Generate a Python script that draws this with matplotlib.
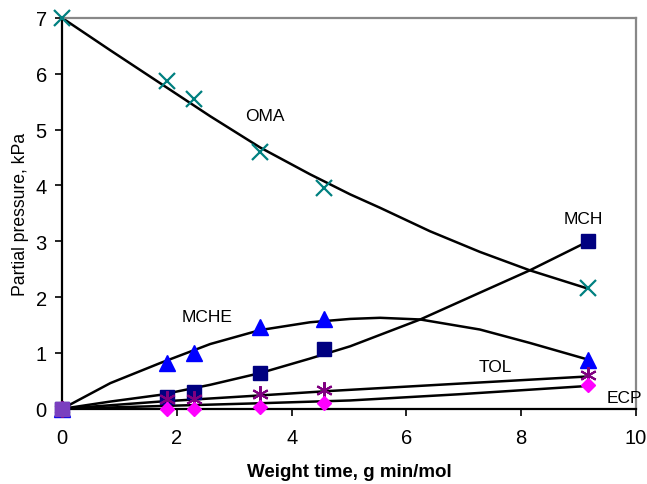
import matplotlib

matplotlib.use('Agg')
import matplotlib.pyplot as plt

plt.rcParams['font.family'] = ['Liberation Sans', 'DejaVu Sans']

# Экспериментальные точки
w_time = [0, 1.83, 2.3, 3.45, 4.57, 9.17]
oma_pts = [7.0, 5.87, 5.55, 4.6, 3.95, 2.17]
mche_pts = [0, 0.82, 1.0, 1.47, 1.6, 0.88]
mch_pts = [0, 0.22, 0.3, 0.65, 1.08, 3.0]
tol_pts = [0, 0.17, 0.18, 0.27, 0.34, 0.6]
ecp_pts = [0, -0.01, 0.0, 0.04, 0.1, 0.42]

# Модельные кривые
oma_cx = [0, 0.84, 1.71, 2.58, 3.45, 4.32, 5.02, 5.54, 6.41, 7.28, 8.15, 9.17]
oma_cy = [7.0, 6.42, 5.83, 5.24, 4.68, 4.2, 3.84, 3.6, 3.18, 2.81, 2.48, 2.15]
mche_cx = [0, 0.84, 1.71, 2.58, 3.45, 4.32, 5.02, 5.54, 6.24, 7.28, 8.15, 9.17]
mche_cy = [0, 0.46, 0.82, 1.16, 1.41, 1.55, 1.61, 1.63, 1.6, 1.42, 1.18, 0.88]
mch_cx = [0, 0.84, 1.71, 2.58, 3.45, 4.32, 5.02, 6.24, 7.28, 8.15, 9.17]
mch_cy = [0, 0.13, 0.25, 0.43, 0.64, 0.9, 1.12, 1.6, 2.08, 2.48, 3.0]
tol_cx = [0, 1.71, 3.45, 4.67, 6.9, 9.17]
tol_cy = [0, 0.13, 0.24, 0.32, 0.45, 0.58]
ecp_cx = [0, 1.71, 3.45, 5.02, 6.9, 9.17]
ecp_cy = [0, 0.05, 0.1, 0.15, 0.26, 0.41]

fig = plt.figure(figsize=(6.47, 4.85), dpi=100)
ax = fig.add_axes([0.096, 0.155, 0.887, 0.806])

for cx, cy in [(oma_cx, oma_cy), (mche_cx, mche_cy), (mch_cx, mch_cy),
               (tol_cx, tol_cy), (ecp_cx, ecp_cy)]:
    ax.plot(cx, cy, color='black', lw=1.8, zorder=2, solid_joinstyle='round')

ax.plot(w_time, oma_pts, 'x', color='#008080', ms=11, mew=1.6, ls='none', zorder=3, clip_on=False)
ax.plot(w_time, mche_pts, '^', color='#0000ff', ms=11, ls='none', zorder=3, clip_on=False)
ax.plot(w_time, mch_pts, 's', color='#000080', ms=10, ls='none', zorder=3, clip_on=False)
ax.plot(w_time, tol_pts, marker=(6, 2, 0), color='#800080', ms=12, mew=1.5, ls='none', zorder=3, clip_on=False)
ax.plot(w_time, ecp_pts, 'D', color='#ff00ff', ms=7, ls='none', zorder=3, clip_on=False)
ax.plot([0], [0], 's', color='#7a3fbf', ms=10, zorder=4, clip_on=False)

# Подписи компонентов
ax.text(3.54, 5.25, 'OMA', fontsize=12.5, ha='center', va='center')
ax.text(2.53, 1.65, 'MCHE', fontsize=12.5, ha='center', va='center')
ax.text(9.08, 3.41, 'MCH', fontsize=12.5, ha='center', va='center')
ax.text(7.54, 0.75, 'TOL', fontsize=12.5, ha='center', va='center')
ax.text(9.8, 0.2, 'ECP', fontsize=12.5, ha='center', va='center')

ax.set_xlim(0, 10)
ax.set_ylim(0, 7)
ax.set_xticks([0, 2, 4, 6, 8, 10])
ax.set_yticks(range(8))
ax.tick_params(labelsize=14.5, length=5, width=1.2, direction='out')
ax.tick_params(axis='x', pad=9)
ax.tick_params(axis='y', pad=6)

for s in ['left', 'bottom']:
    ax.spines[s].set_linewidth(1.6)
    ax.spines[s].set_color('black')
for s in ['top', 'right']:
    ax.spines[s].set_linewidth(1.6)
    ax.spines[s].set_color('#888888')

ax.set_xlabel('Weight time, g min/mol', fontsize=13.5, fontweight='bold', labelpad=11)
ax.set_ylabel('Partial pressure, kPa', fontsize=12.7, labelpad=5)

plt.savefig('out.png', dpi=100)
